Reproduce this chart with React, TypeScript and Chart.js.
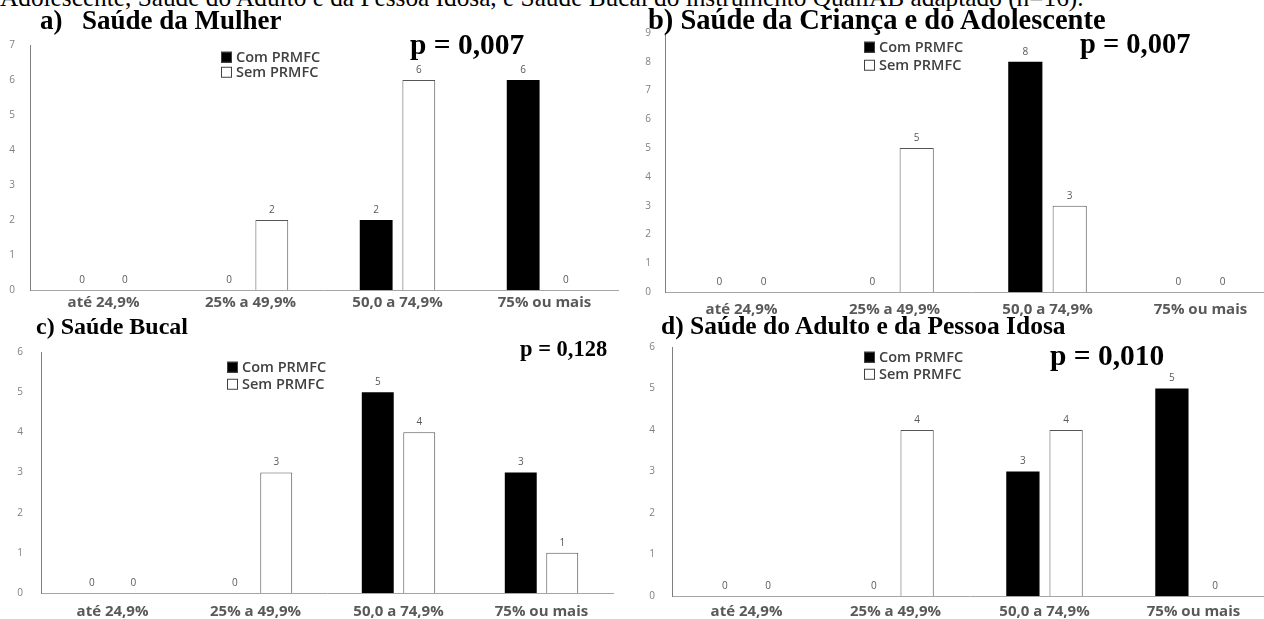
import React, { useEffect, useRef } from "react";
import { Chart, registerables } from "chart.js";

Chart.register(...registerables);

// ---- data ----
const categories = ["até 24,9%", "25% a 49,9%", "50,0 a 74,9%", "75% ou mais"];
const seriesNames = ["Com PRMFC", "Sem PRMFC"];

const comMulher = [0, 0, 2, 6];
const semMulher = [0, 2, 6, 0];
const comCrianca = [0, 0, 8, 0];
const semCrianca = [0, 5, 3, 0];
const comBucal = [0, 0, 5, 3];
const semBucal = [0, 3, 4, 1];
const comAdulto = [0, 0, 3, 5];
const semAdulto = [0, 4, 4, 0];

const yMaxValues = [7, 9, 6, 6];
const panelLetters = ["a)", "b)", "c)", "d)"];
const panelTitles = [
  "Saúde da Mulher",
  "Saúde da Criança e do Adolescente",
  "Saúde Bucal",
  "Saúde do Adulto e da Pessoa Idosa",
];
const pValues = ["p = 0,007", "p = 0,007", "p = 0,128", "p = 0,010"];
const captionText =
  "Adolescente, Saúde do Adulto e da Pessoa Idosa, e Saúde Bucal do instrumento QualiAB adaptado (n=16).";

// ---- layout (positions only) ----
type Area = { left: number; top: number; right: number; bottom: number };
const areas: Area[] = [
  { left: 30, top: 45, right: 618, bottom: 290 },
  { left: 665, top: 33, right: 1277, bottom: 292 },
  { left: 41, top: 352, right: 613, bottom: 593 },
  { left: 672, top: 347, right: 1268, bottom: 596 },
];
const yPads = [15, 14, 18, 17];
const xPads = [4, 9, 10, 7];
const YW = 44;
const XH = 36;
const PT = 12;
const PR = 6;

const valueLabels = {
  id: "valueLabels",
  afterDatasetsDraw(chart: any) {
    const ctx = chart.ctx;
    ctx.save();
    ctx.font = "10px 'Open Sans', sans-serif";
    ctx.fillStyle = "#595959";
    ctx.textAlign = "center";
    ctx.textBaseline = "bottom";
    chart.data.datasets.forEach((ds: any, i: number) => {
      const meta = chart.getDatasetMeta(i);
      meta.data.forEach((bar: any, j: number) => {
        ctx.fillText(String(ds.data[j]), bar.x, bar.y - 5);
      });
    });
    ctx.restore();
  },
};

function BarPanel(props: { idx: number; com: number[]; sem: number[] }) {
  const ref = useRef<HTMLCanvasElement | null>(null);
  const { idx, com, sem } = props;
  const a = areas[idx];
  const cLeft = a.left - YW;
  const cTop = a.top - PT;
  const cWidth = a.right + PR - cLeft;
  const cHeight = a.bottom + XH - cTop;

  useEffect(() => {
    if (!ref.current) return;
    const chart = new Chart(ref.current, {
      type: "bar",
      data: {
        labels: categories,
        datasets: [
          {
            label: seriesNames[0],
            data: com,
            backgroundColor: "#000000",
            borderColor: "#000000",
            borderWidth: 0,
            categoryPercentage: 0.58,
            barPercentage: 0.77,
          },
          {
            label: seriesNames[1],
            data: sem,
            backgroundColor: "#ffffff",
            borderColor: "#555555",
            borderWidth: (c: any) => (c.raw === 0 ? 0 : 1),
            categoryPercentage: 0.58,
            barPercentage: 0.77,
          },
        ],
      },
      options: {
        animation: false,
        responsive: false,
        maintainAspectRatio: false,
        layout: { padding: { top: PT, right: PR, left: 0, bottom: 0 } },
        plugins: {
          legend: { display: false },
          tooltip: { enabled: false },
          title: { display: false },
        },
        scales: {
          x: {
            grid: { display: false, drawTicks: false },
            border: { display: true, color: "#a6a6a6", width: 1 },
            ticks: {
              padding: xPads[idx],
              color: "#595959",
              font: { family: "'Open Sans', sans-serif", size: 15, weight: "bold" },
            },
            afterFit: (s: any) => {
              s.height = XH;
              s.paddingLeft = 0;
              s.paddingRight = 0;
            },
          },
          y: {
            min: 0,
            max: yMaxValues[idx],
            grid: { display: false, drawTicks: false },
            border: { display: true, color: "#7f7f7f", width: 1 },
            ticks: {
              stepSize: 1,
              padding: yPads[idx],
              color: "#7f7f7f",
              font: { family: "'Open Sans', sans-serif", size: 10 },
            },
            afterFit: (s: any) => {
              s.width = YW;
              s.paddingTop = 0;
              s.paddingBottom = 0;
            },
          },
        },
      },
      plugins: [valueLabels],
    });
    return () => chart.destroy();
  }, [idx, com, sem]);

  return (
    <canvas
      ref={ref}
      width={cWidth}
      height={cHeight}
      style={{ position: "absolute", left: cLeft, top: cTop, width: cWidth, height: cHeight }}
    />
  );
}

function Txt(props: { x: number; y: number; size: number; bold?: boolean; serif?: boolean; weight?: number; color?: string; children: any }) {
  return (
    <div
      style={{
        position: "absolute",
        left: props.x,
        top: props.y,
        transform: "translateY(-50%)",
        fontSize: props.size,
        lineHeight: 1,
        fontWeight: props.weight || (props.bold ? 700 : 400),
        fontFamily: props.serif ? "'Liberation Serif', 'Times New Roman', serif" : "'Open Sans', sans-serif",
        color: props.color || "#000",
        whiteSpace: "nowrap",
      }}
    >
      {props.children}
    </div>
  );
}

function Legend(props: { x: number; y1: number; y2: number }) {
  const sq = (fill: string) => (
    <span
      style={{
        display: "inline-block",
        width: 9,
        height: 9,
        background: fill,
        border: "1px solid #404040",
        marginRight: 4,
        verticalAlign: "middle",
        position: "relative",
        top: -1,
      }}
    />
  );
  return (
    <>
      <Txt x={props.x} y={props.y1} size={14.5} weight={600} color="#404040">
        {sq("#000")}
        {seriesNames[0]}
      </Txt>
      <Txt x={props.x} y={props.y2} size={14.5} weight={600} color="#404040">
        {sq("#fff")}
        {seriesNames[1]}
      </Txt>
    </>
  );
}

export default function App() {
  return (
    <div
      style={{
        position: "absolute",
        left: 0,
        top: 0,
        width: 1264,
        height: 619,
        overflow: "hidden",
        background: "#fff",
      }}
    >
      <div
        style={{
          position: "absolute",
          left: 0,
          top: -15,
          fontFamily: "'Liberation Serif', 'Times New Roman', serif",
          fontSize: 25.3,
          lineHeight: "24px",
          whiteSpace: "nowrap",
          color: "#000",
        }}
      >
        {captionText}
      </div>

      <BarPanel idx={0} com={comMulher} sem={semMulher} />
      <BarPanel idx={1} com={comCrianca} sem={semCrianca} />
      <BarPanel idx={2} com={comBucal} sem={semBucal} />
      <BarPanel idx={3} com={comAdulto} sem={semAdulto} />

      {/* panel a */}
      <Txt x={40} y={20} size={27} bold serif>{panelLetters[0]}</Txt>
      <Txt x={82} y={20} size={27} bold serif>{panelTitles[0]}</Txt>
      <Txt x={410} y={45} size={29.5} bold serif>{pValues[0]}</Txt>
      <Legend x={221} y1={57} y2={72} />

      {/* panel b */}
      <Txt x={648} y={20} size={28.5} bold serif>{panelLetters[1] + " " + panelTitles[1]}</Txt>
      <Txt x={1080} y={44} size={28.5} bold serif>{pValues[1]}</Txt>
      <Legend x={864} y1={47} y2={65} />

      {/* panel c */}
      <Txt x={36} y={326} size={24} bold serif>{panelLetters[2] + " " + panelTitles[2]}</Txt>
      <Txt x={520} y={349} size={22.5} bold serif>{pValues[2]}</Txt>
      <Legend x={227} y1={367} y2={384} />

      {/* panel d */}
      <Txt x={661} y={326} size={25.5} bold serif>{panelLetters[3] + " " + panelTitles[3]}</Txt>
      <Txt x={1050} y={356} size={29.5} bold serif>{pValues[3]}</Txt>
      <Legend x={864} y1={357} y2={374} />
    </div>
  );
}
